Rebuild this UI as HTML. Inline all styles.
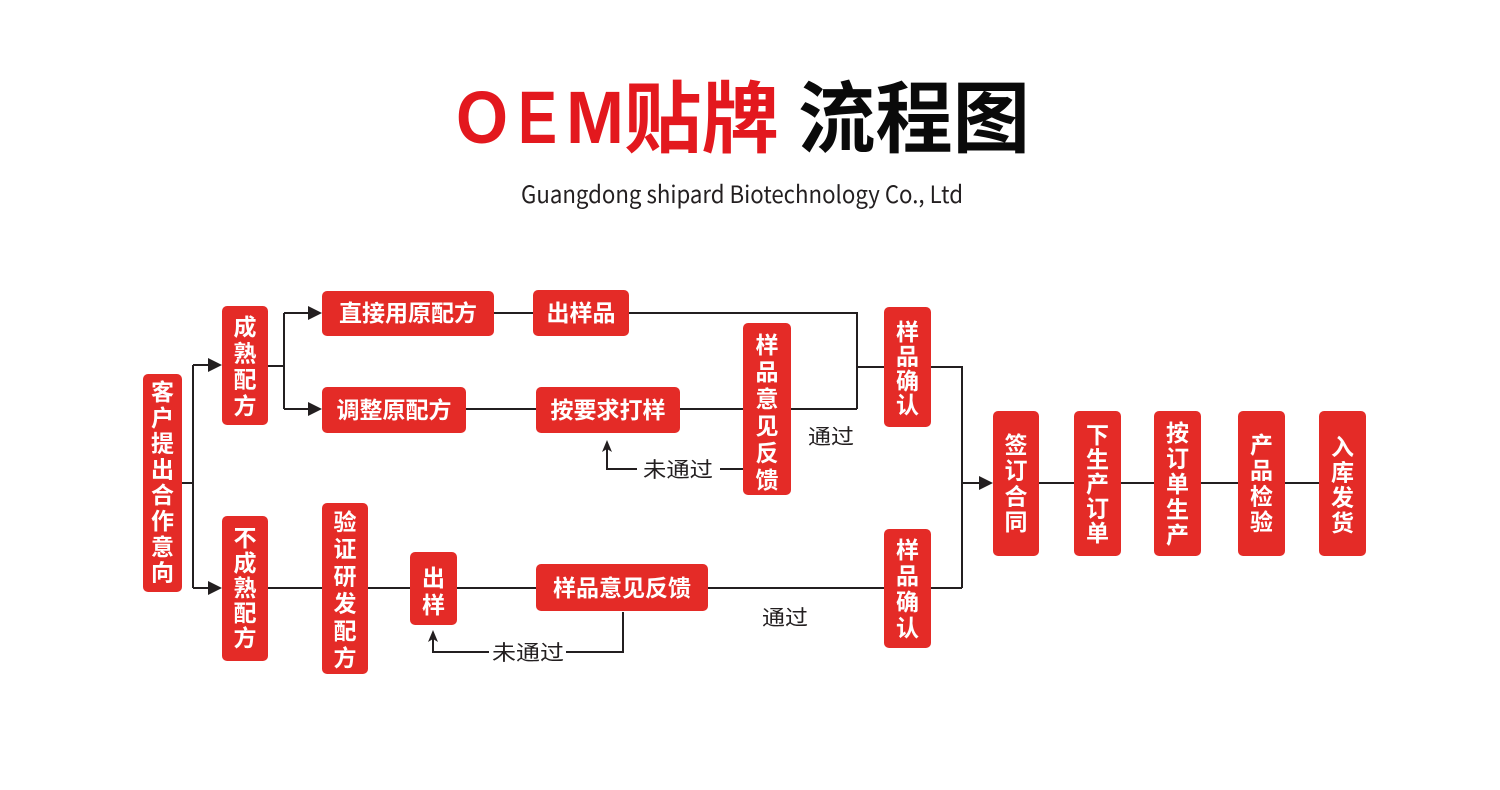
<!DOCTYPE html>
<html><head><meta charset="utf-8"><style>
html,body{margin:0;padding:0;background:#fff;}
svg{display:block;}
.w{fill:#fff;font-family:"Liberation Sans","Noto Sans CJK SC",sans-serif;font-weight:700;font-size:23px;text-anchor:middle;}
.l{fill:#231f20;font-family:"Liberation Sans","Noto Sans CJK SC",sans-serif;font-size:21px;text-anchor:middle;}
.b{fill:#e42b27;}
.ln{stroke:#231f20;stroke-width:2;fill:none;}
.ar{fill:#231f20;}
</style></head><body>
<svg width="1500" height="790" viewBox="0 0 1500 790" xmlns="http://www.w3.org/2000/svg">
<rect width="1500" height="790" fill="#fff"/>
<!-- Title -->
<g font-family="'Liberation Sans',sans-serif" font-weight="700">
<text x="456" y="143" font-size="74" fill="#e3181e" textLength="52" lengthAdjust="spacingAndGlyphs">O</text>
<text x="518" y="143" font-size="74" fill="#e3181e" textLength="39" lengthAdjust="spacingAndGlyphs">E</text>
<text x="566" y="143" font-size="74" fill="#e3181e" textLength="58" lengthAdjust="spacingAndGlyphs">M</text>
</g>
<g font-family="'Noto Sans CJK SC','Liberation Sans',sans-serif" font-weight="700">
<text x="624" y="146" font-size="78" fill="#e3181e" textLength="155" lengthAdjust="spacingAndGlyphs">贴牌</text>
<text x="798" y="146" font-size="78" fill="#0a0a0a" textLength="232" lengthAdjust="spacingAndGlyphs">流程图</text>
</g>
<text x="521" y="203" font-family="'Noto Sans CJK SC','Liberation Sans',sans-serif" font-size="24" fill="#231f20" textLength="442" lengthAdjust="spacingAndGlyphs">Guangdong shipard Biotechnology Co., Ltd</text>

<!-- Connectors -->
<g class="ln">
<path d="M182 483H193"/>
<path d="M193 365V588"/>
<path d="M193 365H212"/>
<path d="M193 588H212"/>
<path d="M268 366H284"/>
<path d="M284 313V409"/>
<path d="M284 313H312"/>
<path d="M284 409H312"/>
<path d="M494 313H533"/>
<path d="M629 313H857V409"/>
<path d="M466 409H536"/>
<path d="M680 409H743"/>
<path d="M791 409H857"/>
<path d="M857 367H884"/>
<path d="M931 367H962V588"/>
<path d="M931 588H962"/>
<path d="M962 483H983"/>
<path d="M1039 483H1074"/>
<path d="M1121 483H1154"/>
<path d="M1201 483H1238"/>
<path d="M1285 483H1319"/>
<path d="M743 469H720"/>
<path d="M637 469H607V448"/>
<path d="M268 588H322"/>
<path d="M368 588H410"/>
<path d="M457 588H536"/>
<path d="M708 588H884"/>
<path d="M623 612V652H566"/>
<path d="M489 652H433V638"/>
</g>
<!-- Arrowheads -->
<g class="ar">
<polygon points="208,358 222,365 208,372"/>
<polygon points="208,581 222,588 208,595"/>
<polygon points="308,306 322,313 308,320"/>
<polygon points="308,402 322,409 308,416"/>
<polygon points="979,476 993,483 979,490"/>
<polygon points="607,440 602,452 607,449 612,452"/>
<polygon points="433,630 428,642 433,639 438,642"/>
</g>

<!-- Boxes -->
<g class="b">
<rect x="143" y="374" width="39" height="218" rx="5"/>
<rect x="222" y="306" width="46" height="119" rx="5"/>
<rect x="222" y="516" width="46" height="145" rx="5"/>
<rect x="322" y="503" width="46" height="171" rx="5"/>
<rect x="410" y="552" width="47" height="73" rx="5"/>
<rect x="743" y="323" width="48" height="172" rx="5"/>
<rect x="884" y="307" width="47" height="120" rx="5"/>
<rect x="884" y="529" width="47" height="119" rx="5"/>
<rect x="993" y="411" width="46" height="145" rx="5"/>
<rect x="1074" y="411" width="47" height="145" rx="5"/>
<rect x="1154" y="411" width="47" height="145" rx="5"/>
<rect x="1238" y="411" width="47" height="145" rx="5"/>
<rect x="1319" y="411" width="47" height="145" rx="5"/>
<rect x="322" y="291" width="172" height="45" rx="5"/>
<rect x="322" y="387" width="144" height="46" rx="5"/>
<rect x="533" y="290" width="96" height="46" rx="5"/>
<rect x="536" y="387" width="144" height="46" rx="5"/>
<rect x="536" y="564" width="172" height="47" rx="5"/>
</g>

<!-- Horizontal box text -->
<text class="w" x="408" y="321">直接用原配方</text>
<text class="w" x="394" y="418">调整原配方</text>
<text class="w" x="581" y="321">出样品</text>
<text class="w" x="608" y="418">按要求打样</text>
<text class="w" x="622" y="596">样品意见反馈</text>

<!-- Vertical box text -->
<g class="w">
<text x="162.5" y="400">客</text><text x="162.5" y="425.8">户</text><text x="162.5" y="451.6">提</text><text x="162.5" y="477.4">出</text><text x="162.5" y="503.2">合</text><text x="162.5" y="529">作</text><text x="162.5" y="554.8">意</text><text x="162.5" y="580.6">向</text>
<text x="245" y="335">成</text><text x="245" y="361.3">熟</text><text x="245" y="387.6">配</text><text x="245" y="414">方</text>
<text x="245" y="546">不</text><text x="245" y="571">成</text><text x="245" y="596">熟</text><text x="245" y="621">配</text><text x="245" y="646">方</text>
<text x="345" y="530">验</text><text x="345" y="557.2">证</text><text x="345" y="584.4">研</text><text x="345" y="611.6">发</text><text x="345" y="638.8">配</text><text x="345" y="666">方</text>
<text x="433.5" y="586">出</text><text x="433.5" y="613">样</text>
<text x="767" y="353">样</text><text x="767" y="380">品</text><text x="767" y="407">意</text><text x="767" y="434">见</text><text x="767" y="461">反</text><text x="767" y="488">馈</text>
<text x="907.5" y="340">样</text><text x="907.5" y="364.5">品</text><text x="907.5" y="389">确</text><text x="907.5" y="413">认</text>
<text x="907.5" y="558">样</text><text x="907.5" y="584">品</text><text x="907.5" y="610">确</text><text x="907.5" y="636">认</text>
<text x="1016" y="453">签</text><text x="1016" y="478.7">订</text><text x="1016" y="504.4">合</text><text x="1016" y="530">同</text>
<text x="1097.5" y="443">下</text><text x="1097.5" y="467.5">生</text><text x="1097.5" y="492">产</text><text x="1097.5" y="516.5">订</text><text x="1097.5" y="541">单</text>
<text x="1177.5" y="441">按</text><text x="1177.5" y="466.5">订</text><text x="1177.5" y="492">单</text><text x="1177.5" y="517.5">生</text><text x="1177.5" y="543">产</text>
<text x="1261.5" y="453">产</text><text x="1261.5" y="478.7">品</text><text x="1261.5" y="504.4">检</text><text x="1261.5" y="530">验</text>
<text x="1342.5" y="455">入</text><text x="1342.5" y="480.3">库</text><text x="1342.5" y="505.6">发</text><text x="1342.5" y="531">货</text>
</g>

<!-- Labels -->
<text class="l" x="831" y="444" textLength="46" lengthAdjust="spacingAndGlyphs">通过</text>
<text class="l" x="785" y="625" textLength="46" lengthAdjust="spacingAndGlyphs">通过</text>
<text class="l" x="678" y="477" textLength="70" lengthAdjust="spacingAndGlyphs">未通过</text>
<text class="l" x="528" y="660" textLength="72" lengthAdjust="spacingAndGlyphs">未通过</text>
</svg>
</body></html>
